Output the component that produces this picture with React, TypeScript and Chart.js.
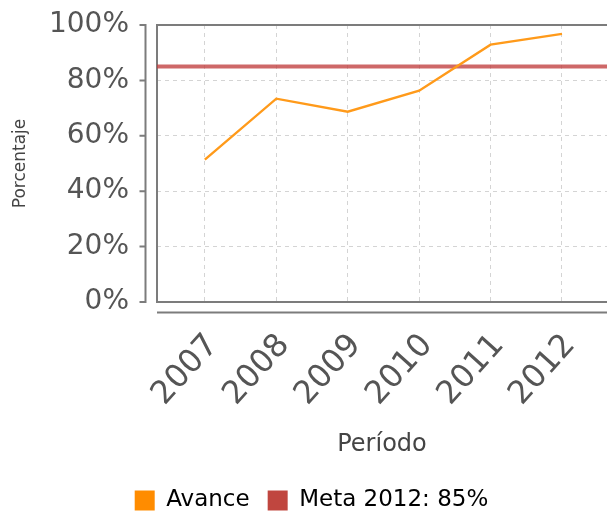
import React, { useEffect, useRef } from 'react';
import { Chart, registerables } from 'chart.js';

Chart.register(...registerables);

const categories = ['2007', '2008', '2009', '2010', '2011', '2012'];
const avance = [51.4, 73.4, 68.7, 76.3, 92.9, 96.8];
const metaValue = 85;
const yTickValues = [0, 20, 40, 60, 80, 100];
const xMin = 2006.33;
const xMax = 2012.63;

const FONT = "'DejaVu Sans', sans-serif";

export default function App() {
  const ref = useRef<HTMLCanvasElement>(null);

  useEffect(() => {
    const canvas = ref.current!;
    const framePlugin = {
      id: 'frame',
      beforeDatasetsDraw(chart: any) {
        const { ctx, chartArea: a, scales } = chart;
        ctx.save();
        ctx.strokeStyle = '#7c7c7c';
        ctx.lineWidth = 2;
        ctx.beginPath();
        ctx.moveTo(a.right + 5, a.top);
        ctx.lineTo(a.left, a.top);
        ctx.lineTo(a.left, a.bottom);
        ctx.lineTo(a.right + 5, a.bottom);
        ctx.stroke();
        ctx.beginPath();
        ctx.moveTo(a.left, a.bottom + 10.5);
        ctx.lineTo(a.right + 5, a.bottom + 10.5);
        ctx.stroke();
        const ys = scales.y;
        const ax = a.left - 11.5;
        ctx.beginPath();
        ctx.moveTo(ax, ys.getPixelForValue(100) - 1);
        ctx.lineTo(ax, ys.getPixelForValue(0) + 1);
        yTickValues.forEach((v) => {
          const py = ys.getPixelForValue(v);
          ctx.moveTo(ax - 6, py);
          ctx.lineTo(ax, py);
        });
        ctx.stroke();
        ctx.restore();
      },
    };

    const chart = new Chart(canvas, {
      type: 'line',
      data: {
        datasets: [
          {
            label: 'Avance',
            data: categories.map((c, i) => ({ x: Number(c), y: avance[i] })),
            borderColor: '#ff9a1a',
            backgroundColor: '#ff8c00',
            borderWidth: 2.4,
            pointRadius: 0,
            tension: 0,
            fill: false,
          },
          {
            label: 'Meta 2012: 85%',
            data: [
              { x: xMin, y: metaValue },
              { x: xMax, y: metaValue },
            ],
            borderColor: 'rgba(192, 62, 62, 0.78)',
            backgroundColor: '#c0463f',
            borderWidth: 4,
            pointRadius: 0,
            fill: false,
          },
        ],
      },
      options: {
        responsive: false,
        animation: false,
        devicePixelRatio: 1,
        layout: { padding: { top: 25, left: 16, right: 16, bottom: 0 } },
        plugins: {
          tooltip: { enabled: false },
          legend: {
            position: 'bottom',
            labels: {
              boxWidth: 20,
              boxHeight: 20,
              padding: 18,
              color: '#444',
              font: { family: FONT, size: 23 },
              generateLabels: (ch: any) =>
                ch.data.datasets.map((ds: any, i: number) => ({
                  text: ds.label,
                  fillStyle: ds.backgroundColor,
                  strokeStyle: ds.backgroundColor,
                  lineWidth: 0,
                  hidden: false,
                  datasetIndex: i,
                })),
            },
          },
        },
        scales: {
          x: {
            type: 'linear',
            min: xMin,
            max: xMax,
            afterBuildTicks: (scale: any) => {
              scale.ticks = categories.map((c) => ({ value: Number(c) }));
            },
            afterFit: (scale: any) => {
              scale.height = 169;
              scale.paddingLeft = 0;
              scale.paddingRight = 0;
            },
            ticks: {
              minRotation: 48,
              maxRotation: 48,
              autoSkip: false,
              padding: 25,
              labelOffset: 8,
              color: '#555',
              font: { family: FONT, size: 32 },
              callback: (v: any) => String(v),
            },
            grid: {
              color: '#d4d4d4',
              lineWidth: 1,
              drawTicks: false,
            },
            border: { display: false, dash: [4, 4] },
            title: {
              display: true,
              text: 'Período',
              color: '#444',
              font: { family: FONT, size: 24 },
              padding: { top: 0, bottom: 12 },
            },
          },
          y: {
            min: 0,
            max: 100,
            afterFit: (scale: any) => {
              scale.width = 141;
              scale.paddingTop = 0;
              scale.paddingBottom = 0;
            },
            afterBuildTicks: (scale: any) => {
              scale.ticks = yTickValues.map((v) => ({ value: v }));
            },
            ticks: {
              padding: 28,
              color: '#555',
              font: { family: FONT, size: 28 },
              callback: (v: any) => v + '%',
            },
            grid: {
              color: '#d4d4d4',
              lineWidth: 1,
              drawTicks: false,
            },
            border: { display: false, dash: [4, 4] },
            title: {
              display: true,
              text: 'Porcentaje',
              color: '#444',
              font: { family: FONT, size: 17 },
              padding: { top: -6, bottom: 0 },
            },
          },
        },
      },
      plugins: [framePlugin],
    } as any);

    return () => chart.destroy();
  }, []);

  return (
    <div
      style={{
        position: 'absolute',
        left: 0,
        top: 0,
        width: 607,
        height: 512,
        overflow: 'hidden',
        background: '#fff',
      }}
    >
      <canvas ref={ref} width={623} height={522} style={{ display: 'block' }} />
    </div>
  );
}
